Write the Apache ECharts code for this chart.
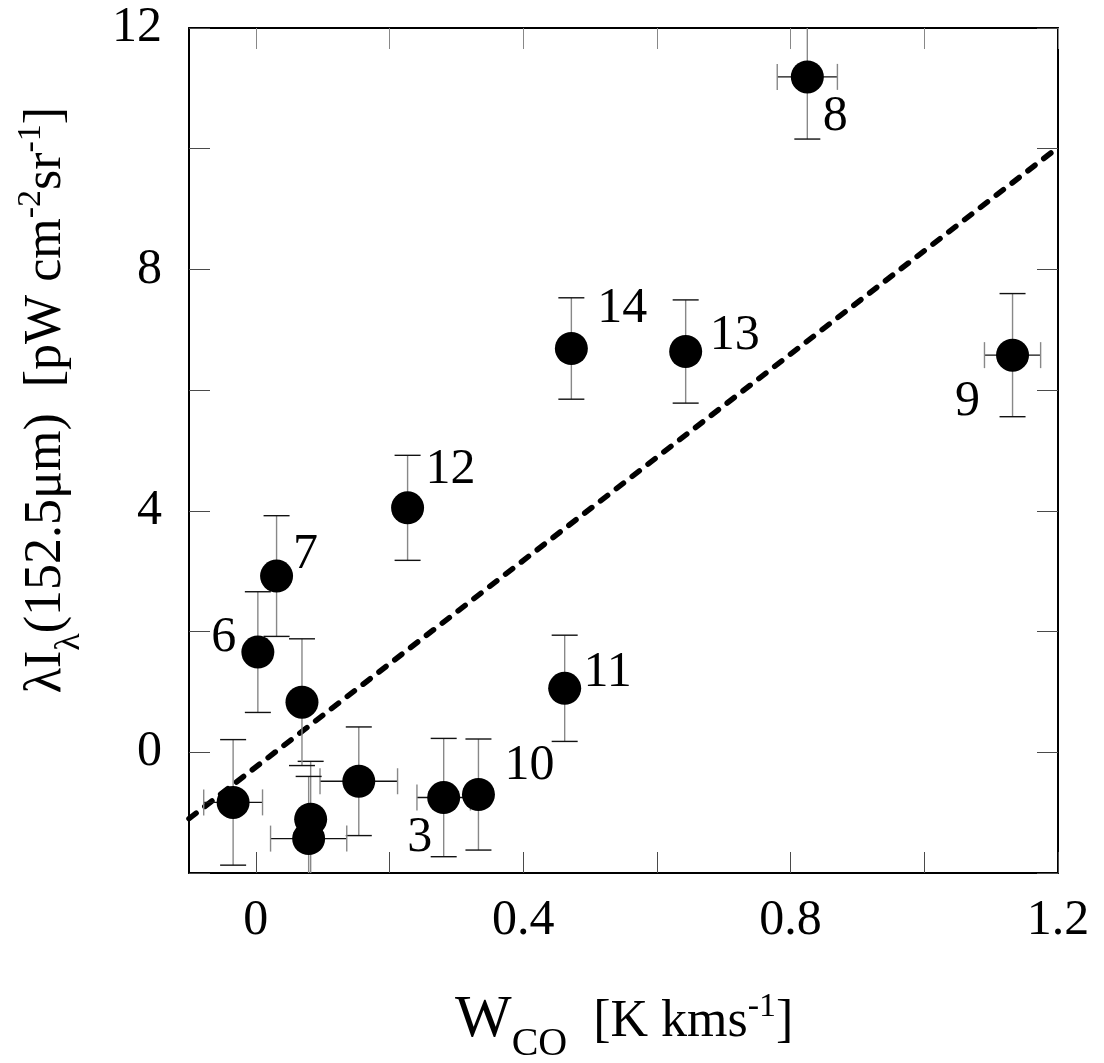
<!DOCTYPE html>
<html><head><meta charset="utf-8">
<script src="https://cdn.jsdelivr.net/npm/echarts@6/dist/echarts.min.js"></script>
<style>html,body{margin:0;padding:0;background:#fff}#c{width:1104px;height:1063px}</style>
</head><body><div id="c"></div>
<script>
// ---- data ----
const pointNames   = ['', '3', '10', '', '', '', '', '6', '7', '12', '11', '14', '13', '9', '8'];
const wco          = [-0.034, 0.281, 0.333, 0.154, 0.082, 0.079, 0.069, 0.003, 0.031, 0.227, 0.462, 0.472, 0.643, 1.132, 0.825];
const wcoErr       = [0.044, 0.040, 0, 0.058, 0, 0.057, 0, 0, 0, 0, 0, 0, 0, 0.042, 0.045];
const intensity    = [-0.83, -0.75, -0.70, -0.48, -1.11, -1.43, 0.83, 1.66, 2.92, 4.05, 1.06, 6.69, 6.64, 6.58, 11.19];
const intensityErr = [1.04, 0.98, 0.92, 0.90, 0.96, 1.03, 1.05, 1.00, 1.00, 0.87, 0.88, 0.84, 0.855, 1.02, 1.03];
const fitX = [-0.1, 1.2];
const fitY = [-1.10, 10.02];
const xTicks = [0, 0.2, 0.4, 0.6, 0.8, 1.0, 1.2];
const xTickLabels = [0, 0.4, 0.8, 1.2];
const yTicks = [-2, 0, 2, 4, 6, 8, 10, 12];
const yTickLabels = [0, 4, 8, 12];

// ---- label placement (pixel offsets of number labels from their points) ----
const labelOffset = {
  '3': [-24, 40], '10': [51, -29], '6': [-34, -14], '7': [29, -21], '12': [43, -38],
  '11': [43, -15], '14': [51, -40], '13': [49, -16], '9': [-45, 47], '8': [28, 40]
};

const SERIF = "'Liberation Serif', 'Times New Roman', serif";
const chart = echarts.init(document.getElementById('c'), null, {renderer: 'canvas'});

const scatterData = wco.map((x, i) => {
  const name = pointNames[i];
  return {
    value: [x, intensity[i]],
    name: name,
    label: name ? {show: true, offset: labelOffset[name]} : {show: false}
  };
});
const errData = wco.map((x, i) => [x, intensity[i], wcoErr[i], intensityErr[i]]);

function axisCommon(extra) {
  return Object.assign({
    type: 'value',
    splitLine: {show: false},
    axisLine: {show: true, onZero: false, lineStyle: {color: '#000', width: 2}},
  }, extra);
}

const tickStyle = {color: '#4a4a4a', width: 1};

// rich text styles: all tokens bottom-aligned, shifted with bottom padding
const richStyles = {
  w:   {fontSize: 60, fontFamily: SERIF, verticalAlign: 'bottom', padding: [0, 0, 14, 0], color: '#000'},
  n:   {fontSize: 52, fontFamily: SERIF, verticalAlign: 'bottom', padding: [0, 0, 15.5, 0], color: '#000'},
  sub: {fontSize: 36, fontFamily: SERIF, verticalAlign: 'bottom', padding: [0, 0, 0, 0], color: '#000'},
  subco: {fontSize: 40, fontFamily: SERIF, verticalAlign: 'bottom', padding: [0, 0, 0, 0], color: '#000'},
  sup: {fontSize: 34, fontFamily: SERIF, verticalAlign: 'bottom', padding: [0, 0, 40, 0], color: '#000'}
};

const option = {
  backgroundColor: '#fff',
  animation: false,
  grid: {left: 189, top: 28, right: 46, bottom: 190, containLabel: false},
  xAxis: [
    axisCommon({
      position: 'bottom', min: -0.1, max: 1.2,
      axisTick: {show: true, inside: true, length: 21, customValues: xTicks, lineStyle: tickStyle},
      axisLabel: {show: true, customValues: xTickLabels, margin: 23, fontSize: 50, fontFamily: SERIF, color: '#000'}
    }),
    axisCommon({
      position: 'top', min: -0.1, max: 1.2,
      axisTick: {show: true, inside: true, length: 21, customValues: xTicks, lineStyle: {color: '#888', width: 1}},
      axisLabel: {show: false}
    })
  ],
  yAxis: [
    axisCommon({
      position: 'left', min: -2, max: 12,
      axisTick: {show: true, inside: true, length: 21, customValues: yTicks, lineStyle: tickStyle},
      axisLabel: {show: true, customValues: yTickLabels, margin: 27, fontSize: 50, fontFamily: SERIF, color: '#000'}
    }),
    axisCommon({
      position: 'right', min: -2, max: 12,
      axisTick: {show: true, inside: true, length: 21, customValues: yTicks, lineStyle: tickStyle},
      axisLabel: {show: false}
    })
  ],
  series: [
    {
      type: 'line',
      data: fitX.map((x, i) => [x, fitY[i]]),
      symbol: 'none',
      lineStyle: {color: '#000', width: 5.5, type: [9, 11], cap: 'round', opacity: 1},
      z: 2,
      silent: true
    },
    {
      type: 'custom',
      data: errData,
      clip: true,
      z: 3,
      renderItem: function (params, api) {
        const x = api.value(0), y = api.value(1), xe = api.value(2), ye = api.value(3);
        const c = api.coord([x, y]);
        const children = [];
        const cap = 13;
        if (ye > 0) {
          const t = api.coord([x, y + ye]), b = api.coord([x, y - ye]);
          children.push({type: 'line', shape: {x1: c[0], y1: t[1], x2: c[0], y2: b[1]}, style: {stroke: '#888', lineWidth: 1.4}});
          children.push({type: 'line', shape: {x1: c[0] - cap, y1: t[1], x2: c[0] + cap, y2: t[1]}, style: {stroke: '#111', lineWidth: 1.4}});
          children.push({type: 'line', shape: {x1: c[0] - cap, y1: b[1], x2: c[0] + cap, y2: b[1]}, style: {stroke: '#111', lineWidth: 1.4}});
        }
        if (xe > 0) {
          const l = api.coord([x - xe, y]), r = api.coord([x + xe, y]);
          children.push({type: 'line', shape: {x1: l[0], y1: c[1], x2: r[0], y2: c[1]}, style: {stroke: '#111', lineWidth: 1.4}});
          children.push({type: 'line', shape: {x1: l[0], y1: c[1] - cap, x2: l[0], y2: c[1] + cap}, style: {stroke: '#888', lineWidth: 1.4}});
          children.push({type: 'line', shape: {x1: r[0], y1: c[1] - cap, x2: r[0], y2: c[1] + cap}, style: {stroke: '#888', lineWidth: 1.4}});
        }
        return {type: 'group', children: children};
      }
    },
    {
      type: 'scatter',
      data: scatterData,
      symbol: 'circle',
      symbolSize: 33,
      itemStyle: {color: '#000', opacity: 1},
      clip: true,
      z: 4,
      label: {
        position: 'inside',
        formatter: p => p.name,
        fontSize: 50, fontFamily: SERIF, color: '#000', opacity: 1
      },
      emphasis: {disabled: true}
    }
  ],
  graphic: [
    {
      type: 'text', x: 455, y: 990,
      style: {
        text: '{w|W}{subco|CO}{n|  [K kms}{sup|-1}{n|]}',
        align: 'left', verticalAlign: 'top',
        fill: '#000',
        rich: richStyles
      }
    },
    {
      type: 'text', x: 51, y: 400, rotation: Math.PI / 2,
      style: {
        text: '{n|λI}{sub|λ}{n|(152.5μm)  [pW cm}{sup|-2}{n|sr}{sup|-1}{n|]}',
        align: 'center', verticalAlign: 'middle',
        fill: '#000',
        rich: richStyles
      }
    }
  ]
};
chart.setOption(option);
</script>
</body></html>
